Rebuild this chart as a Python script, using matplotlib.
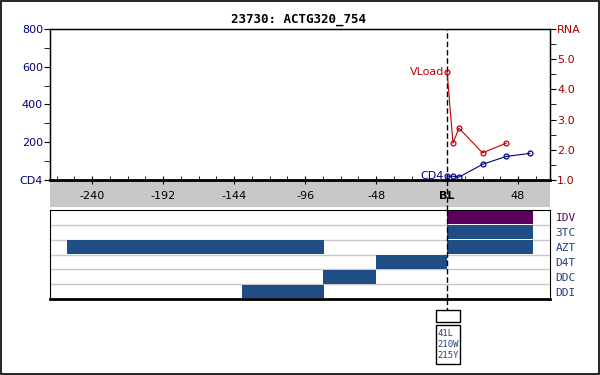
import numpy as np
import matplotlib.pyplot as plt
import matplotlib.transforms as mtransforms
from matplotlib.patches import Rectangle
from matplotlib.lines import Line2D

title = "23730: ACTG320_754"

# viral load (log10 RNA) and CD4 over weeks from baseline
vl_weeks = [0, 4, 8, 24, 40]
vl_values = [4.58, 2.22, 2.72, 1.9, 2.22]
cd4_weeks = [0, 4, 8, 24, 40, 56]
cd4_values = [20, 20, 15, 83, 125, 141]

# treatment periods: (drug, start, end)
drugs = ["IDV", "3TC", "AZT", "D4T", "DDC", "DDI"]
drug_colors = ["#5c005f", "#1f4e87", "#1f4e87", "#1f4e87", "#1f4e87", "#1f4e87"]
label_colors = ["#5c005f", "#1f3f7a", "#1f3f7a", "#1f3f7a", "#1f3f7a", "#1f3f7a"]
periods = [
    ("IDV", 0, 58),
    ("3TC", 0, 58),
    ("AZT", -257, -83),
    ("AZT", 0, 58),
    ("D4T", -48, 0),
    ("DDC", -84, -48),
    ("DDI", -139, -83),
]
mutations = ["41L", "210W", "215Y"]

xticks = [-240, -192, -144, -96, -48, 0, 48]
xticklabels = ["-240", "-192", "-144", "-96", "-48", "BL", "48"]
xlim = (-268.5, 69.6)

W, H = 600, 375
fig = plt.figure(figsize=(6, 3.75), dpi=100)
navy = "#000080"
red = "#a00000"


def fbox(x0, y0, x1, y1):
    # pixel box -> figure fraction [l, b, w, h]
    return [x0 / W, 1 - y1 / H, (x1 - x0) / W, (y1 - y0) / H]


# border round the whole picture
fig.patches.append(Rectangle((0.001, 0.003), 0.997, 0.994, transform=fig.transFigure,
                             fill=False, edgecolor="black", lw=1.2))
# gray band for the time axis (drawn under the axes so tick labels show)
fig.patches.append(Rectangle(fbox(50, 181, 550, 207)[:2], 500 / W, 26 / H,
                             transform=fig.transFigure, facecolor="#c8c8c8",
                             edgecolor="none", zorder=-5))

ax = fig.add_axes(fbox(50, 29, 550, 180))
ax.set_xlim(*xlim)
ax.set_ylim(0, 800)
ax.spines["bottom"].set_linewidth(2)
for s in ["left", "right", "top"]:
    ax.spines[s].set_linewidth(1)
ax.set_xticks(xticks)
ax.set_xticklabels(xticklabels, fontsize=8, color="black")
ax.set_xticks(np.arange(-264, 70, 12), minor=True)
ax.tick_params(axis="x", which="major", direction="inout", length=6, pad=5)
ax.tick_params(axis="x", which="minor", direction="in", length=3)
for lbl in ax.get_xticklabels():
    if lbl.get_text() == "BL":
        lbl.set_fontweight("bold")
ax.set_yticks([0, 200, 400, 600, 800])
ax.set_yticklabels(["CD4", "200", "400", "600", "800"], fontsize=8, color=navy)
ax.set_yticks(np.arange(0, 801, 100), minor=True)
ax.tick_params(axis="y", which="both", length=4, pad=1)

ax2 = ax.twinx()
ax2.set_ylim(1.0, 6.0)
ax2.set_yticks([1, 2, 3, 4, 5, 6])
ax2.set_yticklabels(["1.0", "2.0", "3.0", "4.0", "5.0", "RNA"], fontsize=8, color=red)
ax2.set_yticks(np.arange(1, 6.01, 0.5), minor=True)
ax2.tick_params(axis="y", which="both", length=4, pad=1)

ax.axvline(0, color="black", lw=1, ls=(0, (4, 2)))
ax.plot(cd4_weeks, cd4_values, color=navy, lw=0.8, marker="o", ms=3.5,
        mfc="none", mec=navy, mew=0.9, clip_on=False, zorder=5)
ax2.plot(vl_weeks, vl_values, color="#c00000", lw=0.8, marker="o", ms=3.5,
         mfc="none", mec="#c00000", mew=0.9, clip_on=False, zorder=5)
ax.text(cd4_weeks[0] - 2, cd4_values[0], "CD4", color=navy, fontsize=8,
        ha="right", va="center")
ax2.text(vl_weeks[0] - 2, vl_values[0], "VLoad", color="#c00000", fontsize=8,
         ha="right", va="center")
fig.text(0.497, 1 - 19 / H, title, ha="center", va="center", fontsize=9,
         fontweight="bold", family="DejaVu Sans Mono")

# treatment panel
tx = fig.add_axes(fbox(50, 210, 550, 299))
tx.set_xlim(*xlim)
tx.set_ylim(len(drugs), 0)
tx.set_xticks([])
for i in range(1, len(drugs)):
    tx.axhline(i, color="#c8c8c8", lw=1)
for drug, start, end in periods:
    row = drugs.index(drug)
    tx.barh(row + 0.5, end - start, left=start, height=0.92,
            color=drug_colors[row], edgecolor="none", zorder=2)
tx.axvline(0, color="black", lw=1, ls=(0, (4, 2)), zorder=3)
tx.yaxis.tick_right()
tx.set_yticks(np.arange(len(drugs)) + 0.5)
tx.set_yticklabels(drugs, fontsize=8, family="DejaVu Sans Mono")
for lbl, c in zip(tx.get_yticklabels(), label_colors):
    lbl.set_color(c)
tx.tick_params(axis="y", length=0, pad=4)
tx.spines["bottom"].set_linewidth(2)

# dashed baseline through the gray band and down to the mutation box
blend = mtransforms.blended_transform_factory(tx.transData, fig.transFigure)
fig.add_artist(Line2D([0, 0], [1 - 180 / H, 1 - 210 / H], transform=blend,
                      color="black", lw=1, ls=(0, (4, 2)), zorder=3))
fig.add_artist(Line2D([0, 0], [1 - 299 / H, 1 - 310 / H], transform=blend,
                      color="black", lw=1, ls=(0, (4, 2))))
fig.patches.append(Rectangle(fbox(436, 310, 460, 322)[:2], 24 / W, 12 / H,
                             transform=fig.transFigure, fill=False,
                             edgecolor="black", lw=1))
fig.patches.append(Rectangle(fbox(436, 325, 460, 364)[:2], 24 / W, 39 / H,
                             transform=fig.transFigure, fill=False,
                             edgecolor="black", lw=1))
fig.text(437.5 / W, 1 - 344.5 / H, "\n".join(mutations), ha="left", va="center",
         fontsize=6.4, color="#1f3f7a", family="DejaVu Sans Mono", linespacing=1.35)

fig.savefig("out.png", dpi=100)
